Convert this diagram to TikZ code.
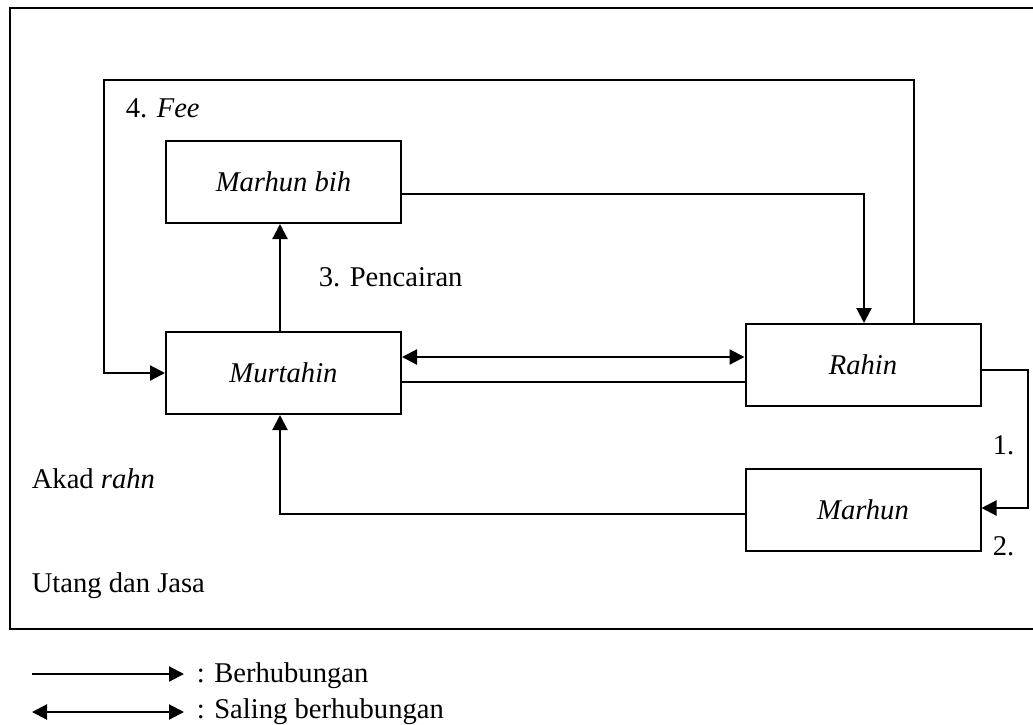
\documentclass[tikz,border=0pt]{standalone}
\usepackage{fontspec}
\setmainfont{Liberation Serif}
\usetikzlibrary{arrows.meta,calc,positioning}

\begin{document}
\begin{tikzpicture}[x=0.5pt,y=-0.5pt,line width=0.8pt,every node/.style={font=\fontsize{14.3}{17}\selectfont}]

% Define block styles
\tikzstyle{block} = [rectangle, draw, line width=1pt, minimum width=117.5pt, minimum height=41pt, inner sep=0pt]
\tikzstyle{line} = [draw, -{Triangle[length=7.5pt,width=7.5pt]}, line width=1.1pt]
\tikzstyle{dline} = [draw, {Triangle[length=7.5pt,width=7.5pt]}-{Triangle[length=7.5pt,width=7.5pt]}, line width=1.1pt]
\tikzstyle{label} = [inner sep=0pt, anchor=base west]

\useasboundingbox (0,0) rectangle (1033,724);

% frame (open on the right)
\draw (1033,8) -- (10,8) -- (10,629) -- (1033,629);

\node [block] (bih) at (283.5,182) {\textit{Marhun bih}};
\node [block] (murtahin) at (283.5,373) {\textit{Murtahin}};
\node [block] (rahin) at (863,365) {\textit{Rahin}};
\node [block] (marhun) at (863,509.5) {\textit{Marhun}};

\coordinate (feeR) at (914,80);
\coordinate (feeL) at (104,80);
\coordinate (bihR) at (864,194);
\coordinate (rahR) at (1028,370);
\coordinate (marL) at (280,514);

\draw[line] (feeR |- rahin.north) -- (feeR) -- (feeL) |- (murtahin.west);
\draw[line] (bih.east |- bihR) -- (bihR) -- (bihR |- rahin.north);
\draw[line] (murtahin.north -| marL) -- (bih.south -| marL);
\draw[dline] (murtahin.east |- 0,357) -- (rahin.west |- 0,357);
\draw (murtahin.east |- 0,382) -- (rahin.west |- 0,382);
\draw[line] (rahin.east |- rahR) -- (rahR) |- (marhun.east |- 0,508);
\draw[line] (marhun.west |- marL) -- (marL) -- (murtahin.south -| marL);

\node [label] (fee) at (125,117) {4. \textit{Fee}};
\node [label] (cair) at (318,286) {3. Pencairan};
\node [label] (satu) at (992,454) {1.};
\node [label] (dua) at (992,555) {2.};
\node [label] (akad) at (31,488) {Akad \textit{rahn}};
\node [label] (utang) at (31,592) {Utang dan Jasa};

% legend
\node [label] (leg1) at (196,682) {: Berhubungan};
\node [label] (leg2) at (196,718) {: Saling berhubungan};
\coordinate (leg1a) at (32,674);
\coordinate (leg2a) at (32,712);
\draw[line] (leg1a) -- (leg1a -| 184,0);
\draw[dline] (leg2a) -- (leg2a -| 184,0);

\end{tikzpicture}
\end{document}
